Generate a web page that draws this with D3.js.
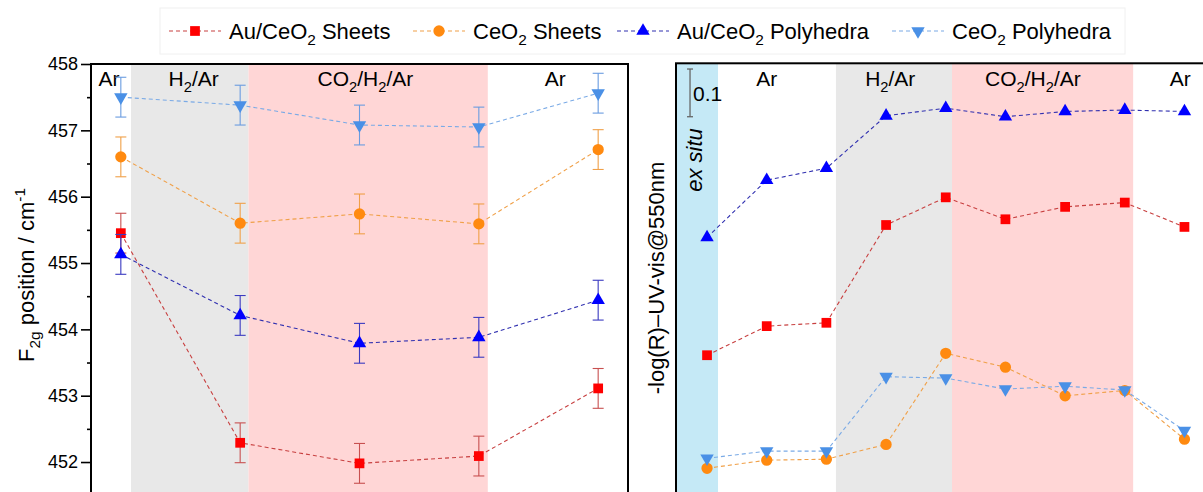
<!DOCTYPE html>
<html><head><meta charset="utf-8">
<script src="https://cdn.jsdelivr.net/npm/d3@7"></script>
<style>
body{margin:0;background:#fff}
svg{display:block}
text{font-family:"Liberation Sans",Arial,Helvetica,sans-serif;fill:#000}
</style>
</head><body>
<svg id="c" width="1203" height="492"></svg>
<script>
// ---------- DATA ----------
const seriesNames = ["Au/CeO_{2} Sheets", "CeO_{2} Sheets", "Au/CeO_{2} Polyhedra", "CeO_{2} Polyhedra"];

// Left panel: F2g Raman position (cm-1) at each step
const leftSteps = [0, 1, 2, 3, 4];
const leftAuSheets = [455.45, 452.29, 451.98, 452.09, 453.11];
const leftCeSheets = [456.60, 455.60, 455.74, 455.59, 456.71];
const leftAuPoly   = [455.13, 454.21, 453.79, 453.88, 454.44];
const leftCePoly   = [457.50, 457.38, 457.08, 457.05, 457.56];
const leftErrAuSheets = [0.3, 0.3, 0.3, 0.3, 0.3];
const leftErrCeSheets = [0.3, 0.3, 0.3, 0.3, 0.3];
const leftErrAuPoly   = [0.3, 0.3, 0.3, 0.3, 0.3];
const leftErrCePoly   = [0.3, 0.3, 0.3, 0.3, 0.3];
const leftYTicks = [452, 453, 454, 455, 456, 457, 458];
const leftYMinorTicks = [451.5, 452.5, 453.5, 454.5, 455.5, 456.5, 457.5];
const leftRegionLabels = ["Ar", "H_{2}/Ar", "CO_{2}/H_{2}/Ar", "Ar"];
const leftRegionBounds = [-0.25, 0.085, 1.07, 3.075, 4.25];
const leftRegionLabelAt = [-0.10, 0.61, 2.05, 3.64];

// Right panel: -log(R) UV-vis @ 550 nm (arbitrary offset, 0.1 scale bar)
const rightSteps = [0, 1, 2, 3, 4, 5, 6, 7, 8];
const rightAuSheets = [0.288, 0.349, 0.356, 0.561, 0.619, 0.573, 0.599, 0.608, 0.557];
const rightCeSheets = [0.051, 0.068, 0.070, 0.101, 0.292, 0.263, 0.203, 0.214, 0.112];
const rightAuPoly   = [0.535, 0.655, 0.680, 0.790, 0.806, 0.788, 0.799, 0.802, 0.799];
const rightCePoly   = [0.072, 0.087, 0.087, 0.243, 0.240, 0.217, 0.223, 0.215, 0.130];
const rightRegionLabels = ["ex situ", "Ar", "H_{2}/Ar", "CO_{2}/H_{2}/Ar", "Ar"];
const rightRegionBounds = [-0.52, 0.184, 2.16, 4.105, 7.14, 8.52];
const rightRegionLabelAt = [-0.17, 1.0, 3.07, 5.46, 7.93];
const scaleBarValue = 0.1;

const yTitleLeft = "F_{2g} position / cm^{-1}";
const yTitleRight = "-log(R)–UV-vis@550nm";

// ---------- STYLE ----------
const markerFill = ["#ff0000", "#ff8a10", "#0000ff", "#4a90e6"];
const lineColor  = ["#c84040", "#f0a048", "#3030b0", "#7aaae6"];
const errColor   = ["#c85050", "#f0a048", "#3a3ac0", "#6a9ce0"];
const symbols = [d3.symbolSquare, d3.symbolCircle, d3.symbolTriangle, d3.symbolTriangle];
const symSize = [95, 100, 78, 78];
const symRot  = [0, 0, 0, 180];
const regionFillLeft  = ["none", "#e8e8e8", "#ffd6d6", "none"];
const regionFillRight = ["#c5e9f6", "none", "#e8e8e8", "#ffd6d6", "none"];

const svg = d3.select("#c");

function rich(sel, str, size) {
  const parts = str.split(/(_\{[^}]*\}|\^\{[^}]*\})/).filter(s => s.length);
  let off = 0;
  parts.forEach(p => {
    if (p.startsWith("_{")) {
      const d = size * 0.28;
      sel.append("tspan").attr("font-size", size * 0.7).attr("dy", d - off).text(p.slice(2, -1));
      off = d;
    } else if (p.startsWith("^{")) {
      const d = -size * 0.42;
      sel.append("tspan").attr("font-size", size * 0.7).attr("dy", d - off).text(p.slice(2, -1));
      off = d;
    } else {
      sel.append("tspan").attr("dy", -off).text(p);
      off = 0;
    }
  });
}

function drawSeries(g, x, y, steps, vals, errs, i) {
  const line = d3.line().x((d, k) => x(steps[k])).y(d => y(d));
  g.append("path").datum(vals).attr("d", line)
    .attr("fill", "none").attr("stroke", lineColor[i]).attr("stroke-width", 1.1)
    .attr("stroke-dasharray", "4,3");
  if (errs) {
    const eg = g.append("g").attr("stroke", errColor[i]).attr("stroke-width", 1.1);
    vals.forEach((v, k) => {
      const cx = x(steps[k]);
      eg.append("line").attr("x1", cx).attr("x2", cx).attr("y1", y(v - errs[k])).attr("y2", y(v + errs[k]));
      eg.append("line").attr("x1", cx - 5.5).attr("x2", cx + 5.5).attr("y1", y(v - errs[k])).attr("y2", y(v - errs[k]));
      eg.append("line").attr("x1", cx - 5.5).attr("x2", cx + 5.5).attr("y1", y(v + errs[k])).attr("y2", y(v + errs[k]));
    });
  }
  const sym = d3.symbol().type(symbols[i]).size(symSize[i]);
  g.selectAll(null).data(vals).join("path")
    .attr("d", sym)
    .attr("transform", (d, k) => `translate(${x(steps[k])},${y(d)}) rotate(${symRot[i]})`)
    .attr("fill", markerFill[i]);
}

// ---------- LEFT PANEL ----------
const L = {x0: 91, x1: 628, y0: 64, y1: 496};
const xL = d3.scaleLinear().domain([leftRegionBounds[0], leftRegionBounds[leftRegionBounds.length - 1]]).range([L.x0, L.x1]);
const yL = d3.scaleLinear().domain([451.5, 458]).range([495.2, 64]);

const gl = svg.append("g");
leftRegionLabels.forEach((lab, k) => {
  if (regionFillLeft[k] !== "none")
    gl.append("rect").attr("x", xL(leftRegionBounds[k])).attr("y", L.y0)
      .attr("width", xL(leftRegionBounds[k + 1]) - xL(leftRegionBounds[k])).attr("height", L.y1 - L.y0)
      .attr("fill", regionFillLeft[k]);
  const t = gl.append("text").attr("x", xL(leftRegionLabelAt[k])).attr("y", 86)
    .attr("text-anchor", "middle").attr("font-size", 21);
  rich(t, lab, 21);
});

const leftSeries = [leftAuSheets, leftCeSheets, leftAuPoly, leftCePoly];
const leftErrs = [leftErrAuSheets, leftErrCeSheets, leftErrAuPoly, leftErrCePoly];
leftSeries.forEach((s, i) => drawSeries(gl, xL, yL, leftSteps, s, leftErrs[i], i));

gl.append("rect").attr("x", L.x0).attr("y", L.y0).attr("width", L.x1 - L.x0).attr("height", L.y1 - L.y0)
  .attr("fill", "none").attr("stroke", "#000").attr("stroke-width", 2);

const axL = gl.append("g").attr("transform", `translate(${L.x0},0)`)
  .call(d3.axisLeft(yL).tickValues(leftYTicks).tickSize(10).tickPadding(3).tickFormat(d3.format("d")));
axL.select(".domain").remove();
axL.selectAll(".tick line").attr("stroke-width", 1.6);
axL.selectAll(".tick text").attr("font-size", 18).attr("font-family", '"Liberation Sans",Arial,sans-serif').attr("fill", "#000");
const axLm = gl.append("g").attr("transform", `translate(${L.x0},0)`)
  .call(d3.axisLeft(yL).tickValues(leftYMinorTicks).tickSize(4).tickFormat(""));
axLm.select(".domain").remove();
axLm.selectAll(".tick line").attr("stroke-width", 1.6);

const tl = svg.append("text").attr("text-anchor", "middle").attr("font-size", 22)
  .attr("transform", "translate(34,275) rotate(-90)");
rich(tl, yTitleLeft, 22);

// ---------- RIGHT PANEL ----------
const R = {x0: 676, x1: 1215.5, y0: 63.3, y1: 496};
const xR = d3.scaleLinear().domain([rightRegionBounds[0], rightRegionBounds[rightRegionBounds.length - 1]]).range([R.x0, R.x1]);
const yR = d3.scaleLinear().domain([0, 0.9]).range([492.6, 63.3]);

const gr = svg.append("g");
rightRegionLabels.forEach((lab, k) => {
  if (regionFillRight[k] !== "none")
    gr.append("rect").attr("x", xR(rightRegionBounds[k])).attr("y", R.y0)
      .attr("width", xR(rightRegionBounds[k + 1]) - xR(rightRegionBounds[k])).attr("height", R.y1 - R.y0)
      .attr("fill", regionFillRight[k]);
  if (k === 0) {
    gr.append("text").attr("text-anchor", "middle").attr("font-size", 22).attr("font-style", "italic")
      .attr("transform", `translate(${xR(rightRegionLabelAt[k]) + 5},160) rotate(-90)`).text(lab);
  } else {
    const t = gr.append("text").attr("x", xR(rightRegionLabelAt[k])).attr("y", 86)
      .attr("text-anchor", "middle").attr("font-size", 21);
    rich(t, lab, 21);
  }
});

const rightSeries = [rightAuSheets, rightCeSheets, rightAuPoly, rightCePoly];
rightSeries.forEach((s, i) => drawSeries(gr, xR, yR, rightSteps, s, null, i));

gr.append("rect").attr("x", R.x0).attr("y", R.y0).attr("width", R.x1 - R.x0).attr("height", R.y1 - R.y0)
  .attr("fill", "none").attr("stroke", "#000").attr("stroke-width", 2);

// scale bar
const sbTop = 0.888, sbX = xR(-0.285);
const sb = gr.append("g").attr("stroke", "#666").attr("stroke-width", 1.3);
sb.append("line").attr("x1", sbX).attr("x2", sbX).attr("y1", yR(sbTop)).attr("y2", yR(sbTop - scaleBarValue));
sb.append("line").attr("x1", sbX - 3).attr("x2", sbX + 3).attr("y1", yR(sbTop)).attr("y2", yR(sbTop));
sb.append("line").attr("x1", sbX - 3).attr("x2", sbX + 3).attr("y1", yR(sbTop - scaleBarValue)).attr("y2", yR(sbTop - scaleBarValue));
gr.append("text").attr("x", sbX + 3).attr("y", 100.5).attr("font-size", 21).text(String(scaleBarValue));

svg.append("text").attr("text-anchor", "middle").attr("font-size", 22)
  .attr("transform", "translate(664,278) rotate(-90)").text(yTitleRight);

// ---------- LEGEND ----------
const lg = svg.append("g");
lg.append("rect").attr("x", 160).attr("y", 8).attr("width", 965).attr("height", 46)
  .attr("fill", "none").attr("stroke", "#f0f0f0").attr("stroke-width", 1);
const legendStart = [169, 413, 617, 892];
const legY = 31;
seriesNames.forEach((name, i) => {
  const x0 = legendStart[i];
  lg.append("line").attr("x1", x0).attr("x2", x0 + 52).attr("y1", legY).attr("y2", legY)
    .attr("stroke", lineColor[i]).attr("stroke-width", 1.1).attr("stroke-dasharray", "4,3");
  lg.append("path").attr("d", d3.symbol().type(symbols[i]).size(symSize[i])())
    .attr("transform", `translate(${x0 + 26},${legY}) rotate(${symRot[i]})`).attr("fill", markerFill[i]);
  const t = lg.append("text").attr("x", x0 + 60).attr("y", legY + 8).attr("font-size", 22);
  rich(t, name, 22);
});
</script>
</body></html>
